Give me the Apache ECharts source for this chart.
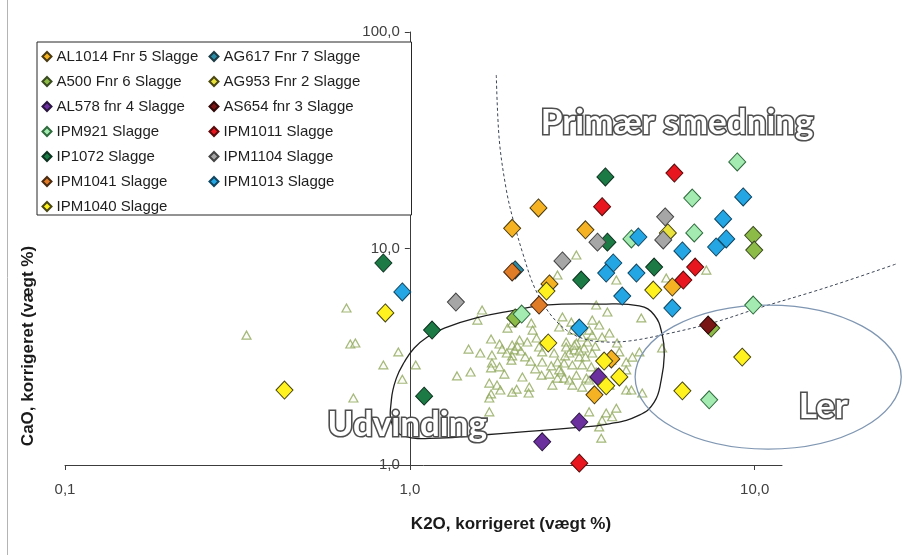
<!DOCTYPE html>
<html>
<head>
<meta charset="utf-8">
<script src="https://cdn.jsdelivr.net/npm/echarts@6/dist/echarts.min.js"></script>
<style>
  html, body { margin: 0; padding: 0; background: #ffffff; }
  #chart { width: 903px; height: 555px; }
</style>
</head>
<body>
<div id="chart"></div>
<script>
// Axis ticks and their printed labels (decimal comma)
const xTickValues = [0.1, 1, 10];
const xTickLabels = ['0,1', '1,0', '10,0'];
const yTickValues = [1, 10, 100];
const yTickLabels = ['1,0', '10,0', '100,0'];

// Series names, in drawing order
const seriesNames = [
  'AL1014 Fnr 5 Slagge', 'AG617 Fnr 7 Slagge',
  'A500 Fnr 6 Slagge', 'AG953 Fnr 2 Slagge',
  'AL578 fnr 4 Slagge', 'AS654 fnr 3 Slagge',
  'IPM921 Slagge', 'IPM1011 Slagge',
  'IP1072 Slagge', 'IPM1104 Slagge',
  'IPM1041 Slagge', 'IPM1013 Slagge',
  'IPM1040 Slagge'
];

// [K2O, CaO] in weight-% for each slag sample
const al1014 = [[2.36, 15.4], [1.98, 12.4], [3.23, 12.2], [2.54, 6.86], [5.77, 6.64], [3.84, 3.09], [3.43, 2.11]];
const ag617 = [[2.02, 7.96]];
const a500 = [[2.02, 4.78], [9.90, 11.5], [9.97, 9.84], [7.48, 4.29]];
const ag953 = [[5.60, 11.8]];
const al578 = [[3.52, 2.55], [3.10, 1.58], [2.42, 1.28]];
const as654 = [[7.33, 4.43]];
const ipm921 = [[8.90, 25.1], [6.59, 17.1], [4.39, 11.07], [6.68, 11.8], [2.11, 4.98], [9.90, 5.48], [7.38, 2.00]];
const ipm1011 = [[5.85, 22.3], [3.61, 15.6], [6.72, 8.21], [6.21, 7.15], [3.10, 1.02]];
const ip1072 = [[3.69, 21.4], [3.74, 10.7], [5.11, 8.21], [3.14, 7.15], [0.838, 8.57], [1.16, 4.20], [1.10, 2.08]];
const ipm1104 = [[5.50, 14.0], [3.50, 10.7], [5.43, 10.95], [2.77, 8.76], [1.36, 5.66]];
const ipm1041 = [[1.98, 7.79], [2.37, 5.48]];
const ipm1013 = [[9.26, 17.3], [8.10, 13.7], [4.60, 11.3], [8.27, 11.07], [7.73, 10.16], [6.17, 9.74], [3.89, 8.57],
  [3.71, 7.70], [4.54, 7.70], [4.13, 6.03], [5.77, 5.31], [3.10, 4.29], [0.951, 6.30]];
const ipm1040 = [[0.433, 2.22], [0.849, 5.04], [2.49, 6.36], [5.08, 6.43], [2.52, 3.66], [3.66, 3.02], [4.05, 2.55],
  [3.71, 2.32], [6.17, 2.20], [9.20, 3.15]];

// Comparison material from extraction slags (small open triangles)
const udvindingsslagge = [
  [0.336, 3.98], [0.655, 5.31], [0.672, 3.62], [0.695, 3.66], [0.686, 2.04], [0.926, 3.33], [0.838, 2.90], [1.04, 2.90], [0.951, 2.49],
  [1.62, 5.20], [1.57, 4.67], [1.92, 4.29], [1.98, 4.53], [2.25, 4.53], [2.27, 4.20], [1.72, 3.82], [1.82, 3.62], [2.08, 3.78], [2.19, 3.70], [2.33, 3.86],
  [1.98, 3.58], [1.48, 3.43], [1.60, 3.29], [1.73, 3.22], [1.85, 3.43], [2.01, 3.40], [1.98, 3.19], [2.10, 3.36], [2.37, 3.51], [2.42, 3.33],
  [1.97, 3.05], [1.73, 2.96], [1.82, 2.84], [1.72, 2.81], [2.62, 3.29], [2.42, 2.99], [2.68, 2.99], [1.37, 2.58], [1.50, 2.69], [2.12, 2.55],
  [2.41, 2.60], [2.54, 2.63], [2.68, 2.52], [1.70, 2.39], [1.79, 2.34], [1.83, 2.22], [2.04, 2.24], [1.98, 2.17], [2.22, 2.29], [2.21, 2.15],
  [2.59, 2.34], [1.72, 2.13], [1.70, 2.04], [1.70, 1.76], [2.77, 4.83], [2.71, 4.34], [2.84, 3.70], [2.80, 2.96], [2.75, 2.69], [2.80, 2.52],
  [2.94, 4.57], [3.38, 4.67], [3.54, 4.43], [3.79, 4.07], [3.38, 3.98], [3.04, 3.66], [3.27, 3.70], [3.20, 3.47], [2.90, 3.29], [3.10, 3.16],
  [3.38, 3.29], [4.05, 3.33], [4.24, 2.99], [4.42, 3.15], [2.96, 2.90], [3.16, 2.90], [3.36, 2.84], [3.04, 2.60], [3.25, 2.52], [2.96, 2.34],
  [3.16, 2.29], [3.79, 2.34], [4.24, 2.22], [4.72, 2.15], [3.31, 1.76], [3.71, 1.74], [3.97, 1.83], [3.61, 1.61], [4.69, 4.78], [5.39, 3.47],
  [3.59, 1.33], [3.74, 5.09], [3.47, 5.48], [4.63, 3.33], [4.24, 2.75], [2.96, 4.20], [3.16, 3.90], [3.31, 4.20], [3.61, 3.90], [2.84, 3.51],
  [3.00, 3.40], [2.71, 2.75], [2.90, 2.47], [3.31, 2.47], [3.54, 1.50], [3.86, 1.67], [4.39, 2.22], [3.04, 9.33], [2.68, 7.54], [3.97, 7.15],
  [5.54, 7.31], [7.24, 7.95], [2.05, 3.54], [2.16, 3.16], [1.91, 3.29], [2.24, 3.02], [3.00, 3.58], [3.10, 3.36], [3.45, 3.54], [3.23, 3.16],
  [2.82, 3.19], [2.47, 3.74], [2.57, 2.87], [2.31, 2.78], [1.88, 2.63], [3.47, 2.69], [3.84, 3.05], [3.99, 3.66]
];

// Field outlines in [K2O, CaO]
const udvindingFelt = [
  [0.884, 2.00], [0.914, 2.52], [0.964, 2.99], [1.030, 3.47], [1.124, 3.90], [1.259, 4.29], [1.559, 4.78], [2.035, 5.20],
  [2.455, 5.48], [3.542, 5.54], [4.627, 5.43], [5.113, 4.93], [5.395, 3.99], [5.468, 3.22], [5.358, 2.47], [5.113, 1.95],
  [4.627, 1.70], [3.787, 1.55], [2.90, 1.48], [2.077, 1.42], [1.622, 1.376], [1.218, 1.332], [0.964, 1.361], [0.890, 1.53]
];
const smedningGraense = [
  [1.781, 63.3], [1.817, 31.7], [1.905, 18.6], [1.995, 13.5], [2.133, 9.33], [2.296, 6.64], [2.537, 5.04], [2.842, 4.20],
  [3.205, 3.82], [3.663, 3.70], [4.328, 3.74], [5.395, 3.99], [7.53, 4.53], [10.51, 5.37], [14.68, 6.30], [18.79, 7.15], [25.7, 8.48]
];
const lerK2O = [4.50, 26.6];
const lerCaO = [1.185, 5.48];

// Field names and their anchor points [K2O, CaO]
const feltNavne = ['Primær smedning', 'Udvinding', 'Ler'];
const feltAnkre = [[5.96, 38.0], [0.983, 1.53], [15.8, 1.853]];

const seriesData = [al1014, ag617, a500, ag953, al578, as654, ipm921, ipm1011, ip1072, ipm1104, ipm1041, ipm1013, ipm1040];
const seriesColors = ['#F5B324', '#2B8CA8', '#8DBB48', '#E9E23C', '#6B2F9E', '#7A1515', '#A3EBB1',
  '#E8161E', '#1C7A45', '#A6A6A6', '#E07B27', '#24A6E4', '#FFF21E'];
const seriesBorders = ['#4a3a10', '#1c3b45', '#3a4a20', '#4a4710', '#2a1540', '#300808', '#2f6b3d',
  '#5a0a0a', '#0d3320', '#444444', '#4a2a10', '#0f4560', '#4a4710'];

function tickLabel(v, vals, labels) {
  for (let i = 0; i < vals.length; i++) {
    if (Math.abs(Math.log10(v) - Math.log10(vals[i])) < 1e-6) return labels[i];
  }
  return '';
}

const chart = echarts.init(document.getElementById('chart'), null, { renderer: 'canvas' });
const axisColor = '#3c3c3c';

const diamondSeries = seriesNames.map((name, i) => ({
  type: 'scatter',
  name: name,
  data: seriesData[i],
  symbol: 'diamond',
  symbolSize: [17, 18],
  z: 5,
  silent: true,
  itemStyle: { color: seriesColors[i], borderColor: seriesBorders[i], borderWidth: 1, opacity: 1 }
}));

const option = {
  animation: false,
  backgroundColor: '#ffffff',
  grid: { left: 65, right: 121, top: 32, bottom: 90 },
  xAxis: {
    type: 'log', logBase: 10, min: 0.1, max: 12,
    axisLine: { show: true, lineStyle: { color: axisColor, width: 1 } },
    axisTick: { show: true, length: 5, lineStyle: { color: axisColor }, customValues: xTickValues },
    axisLabel: {
      customValues: xTickValues,
      formatter: v => tickLabel(v, xTickValues, xTickLabels),
      color: '#404040', fontSize: 15, fontFamily: 'Arial', margin: 17
    },
    splitLine: { show: false }, minorTick: { show: false }, minorSplitLine: { show: false }
  },
  yAxis: {
    type: 'log', logBase: 10, min: 1, max: 100, offset: 0,
    axisLine: { show: true, lineStyle: { color: axisColor, width: 1 } },
    axisTick: { show: true, length: 5, lineStyle: { color: axisColor } },
    axisLabel: {
      formatter: v => tickLabel(v, yTickValues, yTickLabels),
      color: '#404040', fontSize: 15, fontFamily: 'Arial', margin: 10
    },
    splitLine: { show: false }, minorTick: { show: false }, minorSplitLine: { show: false }
  },
  legend: {
    data: seriesNames,
    left: 37, top: 42, orient: 'horizontal', width: 330,
    icon: 'diamond', itemWidth: 9, itemHeight: 9, itemGap: 10,
    padding: [7, 46, 1, 4.5],
    backgroundColor: '#ffffff', borderColor: '#262626', borderWidth: 1, borderRadius: 0,
    textStyle: { fontFamily: 'Arial', fontSize: 15, color: '#1f1f1f', width: 142, lineHeight: 15, overflow: 'none' },
    selectedMode: false, z: 8
  },
  series: [
    {
      type: 'scatter', name: 'Udvindingsslagger', data: udvindingsslagge,
      symbol: 'triangle', symbolSize: [9, 8], z: 2, silent: true,
      itemStyle: { color: 'rgba(240,245,225,0.35)', borderColor: '#8ea65a', borderWidth: 1.2 }
    }
  ].concat(diamondSeries)
};

chart.setOption(option);

function toPx(p) { return chart.convertToPixel({ gridIndex: 0 }, p); }

// Move the CaO axis so it crosses the K2O axis at 1,0
const xOne = chart.convertToPixel({ xAxisIndex: 0 }, 1);
const xMin = chart.convertToPixel({ xAxisIndex: 0 }, 0.1);

const lerA = toPx([lerK2O[0], lerCaO[0]]);
const lerB = toPx([lerK2O[1], lerCaO[1]]);

const fieldTextStyle = {
  fill: '#ffffff', stroke: '#4f4f4f', lineWidth: 3.2,
  font: 'bold 35px Lato', align: 'center', verticalAlign: 'middle'
};

const graphics = [
  {
    type: 'line', silent: true, z: 0,
    shape: { x1: 7.5, y1: 0, x2: 7.5, y2: 555 },
    style: { stroke: '#b4b4b4', lineWidth: 1 }
  },
  {
    type: 'polyline', silent: true, z: 3,
    shape: { points: smedningGraense.map(toPx), smooth: 0.35 },
    style: { fill: 'none', stroke: '#3d4656', lineWidth: 1, lineDash: [3, 2.5] }
  },
  {
    type: 'polygon', silent: true, z: 3,
    shape: { points: udvindingFelt.map(toPx), smooth: 0.45 },
    style: { fill: 'none', stroke: '#1e1e1e', lineWidth: 1.3 }
  },
  {
    type: 'ellipse', silent: true, z: 3,
    shape: {
      cx: (lerA[0] + lerB[0]) / 2, cy: (lerA[1] + lerB[1]) / 2,
      rx: Math.abs(lerB[0] - lerA[0]) / 2, ry: Math.abs(lerB[1] - lerA[1]) / 2
    },
    style: { fill: 'none', stroke: '#7f96b2', lineWidth: 1.3 }
  },
  {
    type: 'text', silent: true, z: 9, x: 511, y: 524,
    style: { text: 'K2O, korrigeret (vægt %)', font: 'bold 17px Arial', fill: '#1a1a1a', align: 'center', verticalAlign: 'middle' }
  },
  {
    type: 'text', silent: true, z: 9, x: 28, y: 346, rotation: Math.PI / 2,
    style: { text: 'CaO, korrigeret (vægt %)', font: 'bold 17px Arial', fill: '#1a1a1a', align: 'center', verticalAlign: 'middle' }
  }
].concat(feltNavne.map((t, i) => {
  const p = toPx(feltAnkre[i]);
  return {
    type: 'text', silent: true, z: 9, x: p[0], y: p[1],
    style: Object.assign({ text: t }, fieldTextStyle)
  };
}));

chart.setOption({ yAxis: { offset: -(xOne - xMin) }, graphic: graphics });
</script>
</body>
</html>
